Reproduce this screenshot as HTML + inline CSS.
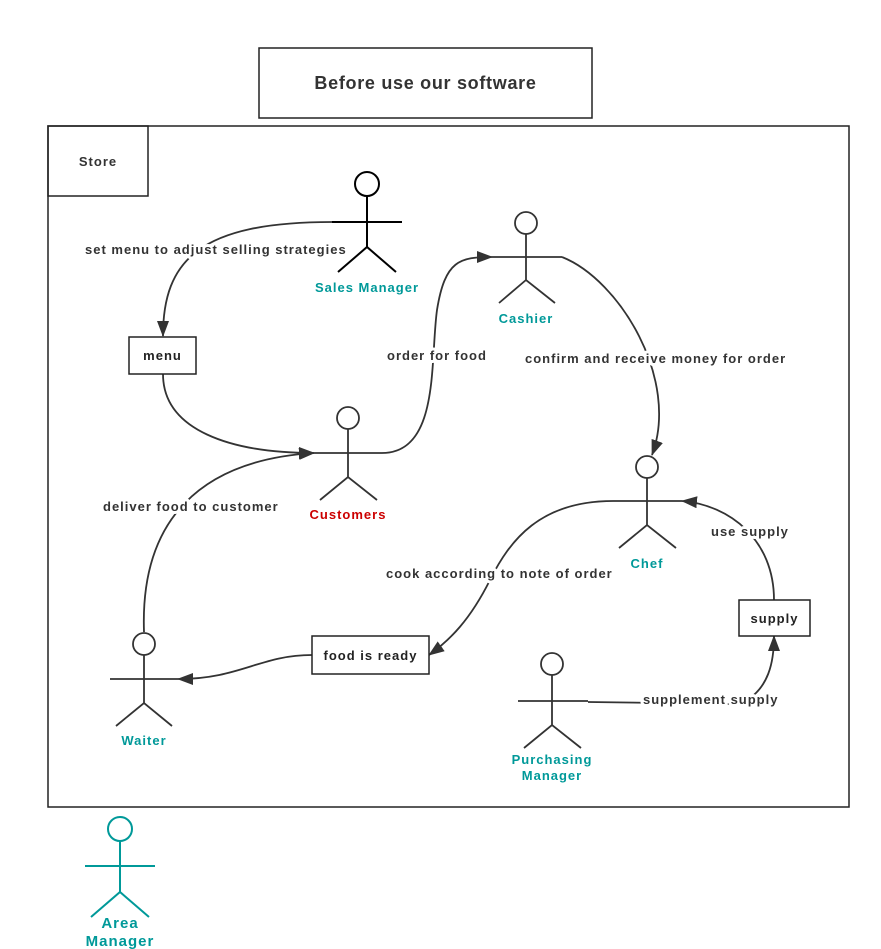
<!DOCTYPE html>
<html><head><meta charset="utf-8"><style>
html,body{margin:0;padding:0;background:#fff;}
svg{display:block;}
text{font-family:"Liberation Sans",sans-serif;font-weight:bold;letter-spacing:1px;}
.l{font-size:13px;fill:#333;paint-order:stroke;stroke:#fff;stroke-width:6px;stroke-linejoin:round;}
.a{font-size:13px;fill:#009999;text-anchor:middle;}
</style></head><body>
<svg width="881" height="949" viewBox="0 0 881 949" xmlns="http://www.w3.org/2000/svg">
<defs><marker id="m" markerWidth="16" markerHeight="12" refX="15" refY="6" orient="auto" markerUnits="userSpaceOnUse"><path d="M0,0 L16,6 L0,12 Z" fill="#333"/></marker></defs>
<rect x="259" y="48" width="333" height="70" fill="#fff" stroke="#222" stroke-width="1.5"/>
<text x="425.5" y="89" text-anchor="middle" style="font-size:18px;fill:#333;letter-spacing:0.7px">Before use our software</text>
<rect x="48" y="126" width="801" height="681" fill="none" stroke="#222" stroke-width="1.5"/>
<rect x="48" y="126" width="100" height="70" fill="none" stroke="#222" stroke-width="1.5"/>
<text x="98" y="166" text-anchor="middle" style="font-size:13px;fill:#333">Store</text>
<g fill="none" stroke="#333" stroke-width="1.8">
<path d="M332,222 C200,222 163,260 163,336" marker-end="url(#m)"/>
<path d="M163,374 C163,430 230,453 314,453" marker-end="url(#m)"/>
<path d="M382,453 C440,453 430,360 437,310 C445,260 460,257 492,257" marker-end="url(#m)"/>
<path d="M562,257 C620,280 680,380 652,455" marker-end="url(#m)"/>
<path d="M613,501 C540,501 510,540 490,580 C470,620 450,640 429,655" marker-end="url(#m)"/>
<path d="M312,655 C260,655 240,679 178,679" marker-end="url(#m)"/>
<path d="M144,632 C140,520 200,460 314,453" marker-end="url(#m)"/>
<path d="M588,702 L740,704 C770,690 774,660 774,636" marker-end="url(#m)"/>
<path d="M774,600 C774,540 730,505 682,501" marker-end="url(#m)"/>
</g>
<g fill="#fff" stroke="#222" stroke-width="1.5">
<rect x="129" y="337" width="67" height="37"/>
<rect x="312" y="636" width="117" height="38"/>
<rect x="739" y="600" width="71" height="36"/>
</g>
<g style="font-size:13px;fill:#222" text-anchor="middle">
<text x="162.5" y="360">menu</text>
<text x="370.5" y="660">food is ready</text>
<text x="774.5" y="623">supply</text>
</g>
<text class="l" x="85" y="254">set menu to adjust selling strategies</text>
<text class="l" x="387" y="360">order for food</text>
<text class="l" x="525" y="363">confirm and receive money for order</text>
<text class="l" x="103" y="511">deliver food to customer</text>
<text class="l" x="386" y="578">cook according to note of order</text>
<text class="l" x="711" y="536">use supply</text>
<text class="l" x="643" y="704">supplement supply</text>
<g fill="none" stroke="#000" stroke-width="2">
<circle cx="367" cy="184" r="12"/><path d="M367,196V247M332,222H402M338,272L367,247L396,272"/>
</g>
<g fill="none" stroke="#333" stroke-width="1.8">
<circle cx="526" cy="223" r="11"/><path d="M526,234V280M492,257H562M499,303L526,280L555,303"/>
<circle cx="348" cy="418" r="11"/><path d="M348,429V477M314,453H382M320,500L348,477L377,500"/>
<circle cx="647" cy="467" r="11"/><path d="M647,478V525M613,501H682M619,548L647,525L676,548"/>
<circle cx="144" cy="644" r="11"/><path d="M144,655V703M110,679H178M116,726L144,703L172,726"/>
<circle cx="552" cy="664" r="11"/><path d="M552,675V725M518,701H588M524,748L552,725L581,748"/>
</g>
<g fill="none" stroke="#009999" stroke-width="2">
<circle cx="120" cy="829" r="12"/><path d="M120,841V892M85,866H155M91,917L120,892L149,917"/>
</g>
<text class="a" x="367" y="292">Sales Manager</text>
<text class="a" x="526" y="323">Cashier</text>
<text class="a" x="348" y="519" style="fill:#cc0000">Customers</text>
<text class="a" x="647" y="568">Chef</text>
<text class="a" x="144" y="745">Waiter</text>
<text class="a" x="552" y="764">Purchasing</text>
<text class="a" x="552" y="780">Manager</text>
<text class="a" x="120" y="928" style="font-size:15px">Area</text>
<text class="a" x="120" y="946" style="font-size:15px">Manager</text>
</svg>
</body></html>
